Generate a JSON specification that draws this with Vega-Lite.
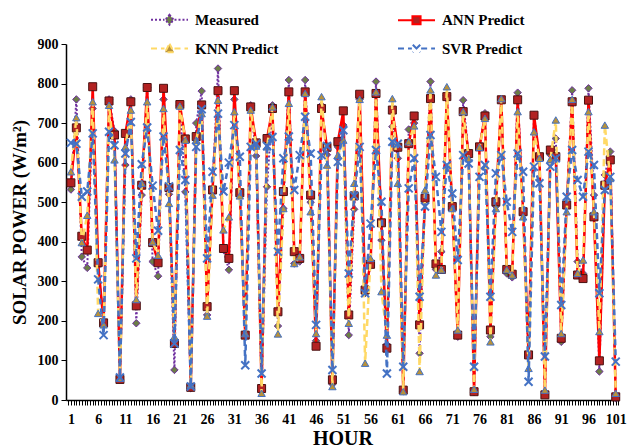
{
  "$schema": "https://vega.github.io/schema/vega-lite/v6.json",
  "autosize": "none",
  "width": 553,
  "height": 356,
  "padding": {"left": 66, "top": 44, "right": 9, "bottom": 48},
  "background": "white",
  "data": {"values": [
    {"h":1,"M":532,"A":549,"K":577,"S":650},
    {"h":2,"M":760,"A":688,"K":714,"S":648},
    {"h":3,"M":362,"A":414,"K":398,"S":514},
    {"h":4,"M":334,"A":379,"K":467,"S":527},
    {"h":5,"M":737,"A":792,"K":754,"S":674},
    {"h":6,"M":340,"A":347,"K":219,"S":305},
    {"h":7,"M":195,"A":195,"K":190,"S":164},
    {"h":8,"M":760,"A":756,"K":745,"S":678},
    {"h":9,"M":680,"A":670,"K":607,"S":644},
    {"h":10,"M":52,"A":52,"K":55,"S":57},
    {"h":11,"M":594,"A":674,"K":640,"S":623},
    {"h":12,"M":760,"A":754,"K":733,"S":703},
    {"h":13,"M":194,"A":238,"K":254,"S":358},
    {"h":14,"M":518,"A":543,"K":548,"S":596},
    {"h":15,"M":790,"A":790,"K":754,"S":689},
    {"h":16,"M":350,"A":398,"K":400,"S":542},
    {"h":17,"M":313,"A":347,"K":366,"S":428},
    {"h":18,"M":760,"A":788,"K":737,"S":666},
    {"h":19,"M":520,"A":537,"K":497,"S":540},
    {"h":20,"M":76,"A":143,"K":160,"S":143},
    {"h":21,"M":745,"A":747,"K":743,"S":632},
    {"h":22,"M":526,"A":660,"K":657,"S":556},
    {"h":23,"M":30,"A":32,"K":38,"S":34},
    {"h":24,"M":700,"A":666,"K":657,"S":640},
    {"h":25,"M":781,"A":746,"K":724,"S":735},
    {"h":26,"M":215,"A":236,"K":212,"S":358},
    {"h":27,"M":530,"A":531,"K":518,"S":577},
    {"h":28,"M":838,"A":782,"K":758,"S":724},
    {"h":29,"M":380,"A":383,"K":430,"S":527},
    {"h":30,"M":329,"A":358,"K":463,"S":600},
    {"h":31,"M":760,"A":782,"K":729,"S":695},
    {"h":32,"M":520,"A":524,"K":516,"S":615},
    {"h":33,"M":160,"A":164,"K":168,"S":88},
    {"h":34,"M":745,"A":741,"K":733,"S":640},
    {"h":35,"M":617,"A":650,"K":642,"S":648},
    {"h":36,"M":25,"A":29,"K":17,"S":67},
    {"h":37,"M":539,"A":661,"K":640,"S":642},
    {"h":38,"M":745,"A":737,"K":741,"S":665},
    {"h":39,"M":187,"A":223,"K":167,"S":375},
    {"h":40,"M":484,"A":527,"K":484,"S":611},
    {"h":41,"M":809,"A":779,"K":750,"S":666},
    {"h":42,"M":345,"A":375,"K":345,"S":531},
    {"h":43,"M":350,"A":358,"K":362,"S":619},
    {"h":44,"M":809,"A":779,"K":775,"S":716},
    {"h":45,"M":500,"A":518,"K":476,"S":623},
    {"h":46,"M":150,"A":136,"K":168,"S":190},
    {"h":47,"M":745,"A":737,"K":767,"S":619},
    {"h":48,"M":620,"A":639,"K":594,"S":642},
    {"h":49,"M":40,"A":51,"K":34,"S":76},
    {"h":50,"M":640,"A":653,"K":619,"S":602},
    {"h":51,"M":695,"A":731,"K":657,"S":682},
    {"h":52,"M":164,"A":215,"K":194,"S":320},
    {"h":53,"M":482,"A":516,"K":548,"S":516},
    {"h":54,"M":760,"A":773,"K":760,"S":640},
    {"h":55,"M":270,"A":278,"K":93,"S":270},
    {"h":56,"M":340,"A":343,"K":358,"S":446},
    {"h":57,"M":805,"A":775,"K":779,"S":632},
    {"h":58,"M":404,"A":448,"K":274,"S":501},
    {"h":59,"M":140,"A":131,"K":164,"S":67},
    {"h":60,"M":691,"A":733,"K":762,"S":653},
    {"h":61,"M":611,"A":639,"K":548,"S":648},
    {"h":62,"M":22,"A":25,"K":21,"S":84},
    {"h":63,"M":684,"A":648,"K":653,"S":535},
    {"h":64,"M":700,"A":718,"K":693,"S":611},
    {"h":65,"M":118,"A":190,"K":72,"S":261},
    {"h":66,"M":510,"A":510,"K":531,"S":489},
    {"h":67,"M":805,"A":762,"K":784,"S":670},
    {"h":68,"M":330,"A":344,"K":316,"S":564},
    {"h":69,"M":375,"A":330,"K":329,"S":425},
    {"h":70,"M":770,"A":767,"K":792,"S":594},
    {"h":71,"M":489,"A":489,"K":484,"S":522},
    {"h":72,"M":160,"A":164,"K":177,"S":354},
    {"h":73,"M":758,"A":729,"K":729,"S":619},
    {"h":74,"M":620,"A":623,"K":610,"S":598},
    {"h":75,"M":20,"A":21,"K":27,"S":84},
    {"h":76,"M":640,"A":640,"K":639,"S":564},
    {"h":77,"M":725,"A":718,"K":712,"S":594},
    {"h":78,"M":160,"A":177,"K":147,"S":261},
    {"h":79,"M":490,"A":501,"K":484,"S":573},
    {"h":80,"M":760,"A":759,"K":762,"S":619},
    {"h":81,"M":320,"A":330,"K":329,"S":501},
    {"h":82,"M":310,"A":318,"K":316,"S":425},
    {"h":83,"M":777,"A":759,"K":729,"S":623},
    {"h":84,"M":470,"A":476,"K":463,"S":577},
    {"h":85,"M":110,"A":114,"K":80,"S":46},
    {"h":86,"M":720,"A":720,"K":678,"S":590},
    {"h":87,"M":610,"A":615,"K":611,"S":548},
    {"h":88,"M":15,"A":13,"K":25,"S":110},
    {"h":89,"M":620,"A":632,"K":608,"S":590},
    {"h":90,"M":661,"A":615,"K":708,"S":611},
    {"h":91,"M":147,"A":156,"K":168,"S":240},
    {"h":92,"M":490,"A":493,"K":476,"S":514},
    {"h":93,"M":783,"A":754,"K":760,"S":632},
    {"h":94,"M":350,"A":316,"K":320,"S":556},
    {"h":95,"M":320,"A":307,"K":354,"S":514},
    {"h":96,"M":788,"A":758,"K":729,"S":628},
    {"h":97,"M":518,"A":463,"K":476,"S":594},
    {"h":98,"M":72,"A":99,"K":173,"S":270},
    {"h":99,"M":569,"A":543,"K":695,"S":531},
    {"h":100,"M":628,"A":607,"K":560,"S":564},
    {"h":101,"M":5,"A":8,"K":17,"S":97}
  ]},
  "encoding": {
    "x": {
      "field": "h", "type": "quantitative",
      "scale": {"domain": [0.1, 101.6], "nice": false, "zero": false},
      "axis": {
        "title": "HOUR",
        "values": [0.5,1,1.5,2,2.5,3,3.5,4,4.5,5,5.5,6,6.5,7,7.5,8,8.5,9,9.5,10,10.5,11,11.5,12,12.5,13,13.5,14,14.5,15,15.5,16,16.5,17,17.5,18,18.5,19,19.5,20,20.5,21,21.5,22,22.5,23,23.5,24,24.5,25,25.5,26,26.5,27,27.5,28,28.5,29,29.5,30,30.5,31,31.5,32,32.5,33,33.5,34,34.5,35,35.5,36,36.5,37,37.5,38,38.5,39,39.5,40,40.5,41,41.5,42,42.5,43,43.5,44,44.5,45,45.5,46,46.5,47,47.5,48,48.5,49,49.5,50,50.5,51,51.5,52,52.5,53,53.5,54,54.5,55,55.5,56,56.5,57,57.5,58,58.5,59,59.5,60,60.5,61,61.5,62,62.5,63,63.5,64,64.5,65,65.5,66,66.5,67,67.5,68,68.5,69,69.5,70,70.5,71,71.5,72,72.5,73,73.5,74,74.5,75,75.5,76,76.5,77,77.5,78,78.5,79,79.5,80,80.5,81,81.5,82,82.5,83,83.5,84,84.5,85,85.5,86,86.5,87,87.5,88,88.5,89,89.5,90,90.5,91,91.5,92,92.5,93,93.5,94,94.5,95,95.5,96,96.5,97,97.5,98,98.5,99,99.5,100,100.5,101,101.5],
        "labelExpr": "(datum.value % 1 == 0 && (datum.value - 1) % 5 == 0) ? format(datum.value, 'd') : ''",
        "tickSize": 5,
        "labelPadding": 7,
        "labelFontSize": 14,
        "labelOverlap": false,
        "titleFontSize": 20,
        "titleBaseline": "alphabetic",
        "titleY": 44
      }
    }
  },
  "layer": [
    {
      "mark": {"type": "line", "strokeWidth": 2, "strokeDash": [2, 2]},
      "encoding": {
        "y": {"field": "M", "type": "quantitative", "scale": {"domain": [0, 900], "nice": false},
              "axis": {"title": "SOLAR POWER (W/m²)", "values": [0,100,200,300,400,500,600,700,800,900]}},
        "color": {
          "datum": "Measured",
          "scale": {"domain": ["Measured", "ANN Predict", "KNN Predict", "SVR Predict"],
                    "range": ["#7030A0", "#FF0000", "#FFD966", "#4472C4"]},
          "legend": {
            "title": null,
            "orient": "none",
            "direction": "horizontal",
            "legendX": 84,
            "legendY": -44,
            "columns": 2,
            "columnPadding": 115,
            "rowPadding": -2,
            "padding": 0,
            "symbolSize": 1369,
            "symbolStrokeWidth": 2,
            "labelFont": "Liberation Serif",
            "labelFontWeight": "bold",
            "labelFontSize": 15,
            "labelColor": "#000",
            "labelOffset": 6,
            "labelLimit": 200,
            "encode": {
              "symbols": {
                "update": {
                  "shape": {"signal": "datum.value == 'Measured' ? 'M-1,0H-0.27M0.27,0H1M0,-0.27L0.22,0L0,0.27L-0.22,0Z' : datum.value == 'ANN Predict' ? 'M-1,0H-0.22M0.22,0H1M-0.22,-0.22H0.22V0.22H-0.22Z' : datum.value == 'KNN Predict' ? 'M-1,0H-0.27M0.27,0H1M0,-0.26L0.24,0.2L-0.24,0.2Z' : 'M-1,0H-0.25M0.25,0H1M-0.2,-0.2L0.2,0.2M0.2,-0.2L-0.2,0.2'"},
                  "fill": {"signal": "datum.value == 'Measured' ? '#6B7D47' : datum.value == 'ANN Predict' ? '#B22222' : datum.value == 'KNN Predict' ? '#B8913A' : 'transparent'"},
                  "stroke": {"signal": "datum.value == 'Measured' ? '#7030A0' : datum.value == 'ANN Predict' ? '#FF0000' : datum.value == 'KNN Predict' ? '#FFD966' : '#4472C4'"},
                  "strokeDash": {"signal": "datum.value == 'Measured' ? [2,2] : datum.value == 'ANN Predict' ? [] : [6,4]"},
                  "strokeWidth": {"value": 2},
                  "opacity": {"value": 1}
                }
              }
            }
          }
        }
      }
    },
    {
      "mark": {"type": "point", "shape": "diamond", "filled": true, "size": 55, "fill": "#6B7D47", "stroke": "#7030A0", "strokeWidth": 1, "opacity": 1},
      "encoding": {
        "y": {"field": "M", "type": "quantitative", "scale": {"domain": [0, 900], "nice": false},
              "axis": {"title": "SOLAR POWER (W/m²)", "values": [0,100,200,300,400,500,600,700,800,900]}}
      }
    },
    {
      "mark": {"type": "line", "strokeWidth": 2.5},
      "encoding": {
        "y": {"field": "A", "type": "quantitative", "scale": {"domain": [0, 900], "nice": false},
              "axis": {"title": "SOLAR POWER (W/m²)", "values": [0,100,200,300,400,500,600,700,800,900]}},
        "color": {"datum": "ANN Predict"}
      }
    },
    {
      "mark": {"type": "point", "shape": "square", "filled": true, "size": 64, "fill": "#B22222", "stroke": "#4A1010", "strokeWidth": 1, "opacity": 1},
      "encoding": {
        "y": {"field": "A", "type": "quantitative", "scale": {"domain": [0, 900], "nice": false},
              "axis": {"title": "SOLAR POWER (W/m²)", "values": [0,100,200,300,400,500,600,700,800,900]}}
      }
    },
    {
      "mark": {"type": "line", "strokeWidth": 2.5, "strokeDash": [7, 4]},
      "encoding": {
        "y": {"field": "K", "type": "quantitative", "scale": {"domain": [0, 900], "nice": false},
              "axis": {"title": "SOLAR POWER (W/m²)", "values": [0,100,200,300,400,500,600,700,800,900]}},
        "color": {"datum": "KNN Predict"}
      }
    },
    {
      "mark": {"type": "point", "shape": "triangle-up", "filled": true, "size": 55, "fill": "#B8913A", "stroke": "#4472C4", "strokeWidth": 1, "opacity": 1},
      "encoding": {
        "y": {"field": "K", "type": "quantitative", "scale": {"domain": [0, 900], "nice": false},
              "axis": {"title": "SOLAR POWER (W/m²)", "values": [0,100,200,300,400,500,600,700,800,900]}}
      }
    },
    {
      "mark": {"type": "line", "strokeWidth": 2.5, "strokeDash": [6, 4]},
      "encoding": {
        "y": {"field": "S", "type": "quantitative", "scale": {"domain": [0, 900], "nice": false},
              "axis": {"title": "SOLAR POWER (W/m²)", "values": [0,100,200,300,400,500,600,700,800,900]}},
        "color": {"datum": "SVR Predict"}
      }
    },
    {
      "mark": {"type": "point", "shape": "M-1,-1L1,1M1,-1L-1,1", "filled": false, "size": 64, "stroke": "#4472C4", "strokeWidth": 2, "opacity": 1},
      "encoding": {
        "y": {"field": "S", "type": "quantitative", "scale": {"domain": [0, 900], "nice": false},
              "axis": {"title": "SOLAR POWER (W/m²)", "values": [0,100,200,300,400,500,600,700,800,900]}}
      }
    }
  ],
  "config": {
    "view": {"stroke": null},
    "axis": {
      "labelFont": "Liberation Serif",
      "labelFontWeight": "bold",
      "labelColor": "#000",
      "titleFont": "Liberation Serif",
      "titleFontWeight": "bold",
      "titleColor": "#000",
      "domainColor": "#000",
      "domainWidth": 1.5,
      "tickColor": "#000",
      "grid": false
    },
    "axisY": {
      "labelFontSize": 14,
      "titleFontSize": 19,
      "tickSize": 5,
      "labelPadding": 3,
      "titlePadding": 8
    }
  }
}
